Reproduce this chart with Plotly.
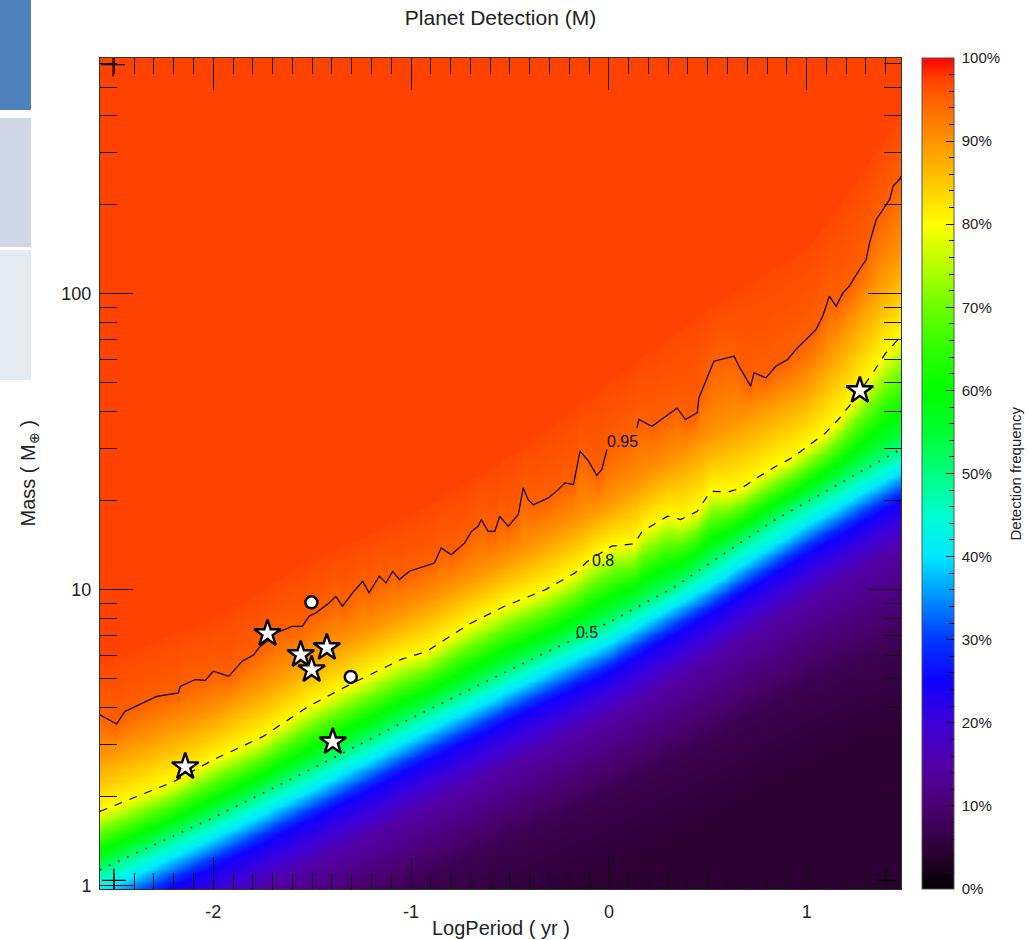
import numpy as np
import plotly.graph_objects as go

# ---------------- data ----------------
# 0.95 contour (solid), log10 period [yr] / log10 mass [M_earth]; two pieces (label gap)
p95_a = [-2.574, -2.489, -2.447, -2.286, -2.176, -2.168, -2.091, -2.041, -2.000, -1.922,
         -1.854, -1.795, -1.770, -1.719, -1.685, -1.600, -1.550, -1.516, -1.482, -1.415,
         -1.381, -1.347, -1.296, -1.245, -1.212, -1.161, -1.127, -1.093, -1.059, -1.009,
         -0.882, -0.848, -0.797, -0.729, -0.695, -0.661, -0.645, -0.611, -0.577, -0.552,
         -0.509, -0.458, -0.433, -0.408, -0.382, -0.306, -0.256, -0.222, -0.179, -0.146,
         -0.103, -0.061, -0.036, -0.010]
m95_a = [0.577, 0.546, 0.588, 0.639, 0.651, 0.673, 0.696, 0.693, 0.724, 0.707,
         0.758, 0.780, 0.803, 0.831, 0.853, 0.876, 0.876, 0.910, 0.921, 0.955,
         0.977, 0.944, 0.989, 1.028, 0.989, 1.045, 1.023, 1.062, 1.034, 1.062,
         1.090, 1.141, 1.118, 1.158, 1.197, 1.214, 1.237, 1.197, 1.197, 1.248,
         1.214, 1.254, 1.344, 1.304, 1.287, 1.310, 1.338, 1.361, 1.355, 1.468,
         1.434, 1.386, 1.406, 1.473]
p95_b = [0.142, 0.151, 0.218, 0.345, 0.387, 0.447, 0.455, 0.514, 0.531, 0.633,
         0.658, 0.717, 0.734, 0.794, 0.844, 0.904, 0.946, 1.047, 1.081, 1.115,
         1.149, 1.183, 1.216, 1.267, 1.301, 1.318, 1.352, 1.386, 1.420, 1.437,
         1.470, 1.487]
m95_b = [1.547, 1.575, 1.552, 1.614, 1.575, 1.598, 1.648, 1.744, 1.772, 1.789,
         1.755, 1.688, 1.733, 1.716, 1.755, 1.778, 1.812, 1.879, 1.924, 1.992,
         1.958, 2.003, 2.026, 2.082, 2.116, 2.172, 2.251, 2.285, 2.319, 2.364,
         2.387, 2.409]

# 0.8 contour (dashed)
p80 = [-2.574, -2.2, -2.0, -1.75, -1.52, -1.29, -1.05, -0.924, -0.71, -0.53, -0.32,
       -0.17, -0.10, 0.015, 0.13, 0.168, 0.297, 0.363, 0.447, 0.514, 0.609, 0.675,
       0.761, 0.843, 0.929, 1.015, 1.096, 1.168, 1.234, 1.335, 1.40, 1.452, 1.477]
m80 = [0.25, 0.351, 0.425, 0.503, 0.605, 0.686, 0.764, 0.79, 0.882, 0.943, 1.0,
       1.057, 1.10, 1.147, 1.155, 1.197, 1.248, 1.237, 1.265, 1.332, 1.331, 1.345,
       1.383, 1.416, 1.447, 1.49, 1.53, 1.581, 1.636, 1.733, 1.80, 1.838, 1.86]

# 0.5 contour (dotted)
p50 = [-2.573, -2.0, -1.5, -1.0, -0.5, 0.0, 0.335, 0.5, 0.843, 1.0, 1.426, 1.477]
m50 = [0.053, 0.229, 0.395, 0.565, 0.729, 0.889, 1.010, 1.085, 1.237, 1.296, 1.457, 1.475]

# colour-band positions (log10 mass) read at these periods
node_p = [-2.573, -2.0, -1.5, -1.0, -0.5, 0.0, 0.5, 1.0, 1.477]
lev045 = [-0.83, -0.65, -0.485, -0.315, -0.15, 0.01, 0.18, 0.37, 0.50]
lev07 = [-0.53, -0.35, -0.185, -0.015, 0.15, 0.31, 0.48, 0.67, 0.80]
lev15 = [-0.27, -0.09, 0.075, 0.245, 0.41, 0.57, 0.765, 0.97, 1.15]
lev25 = [-0.12, 0.06, 0.225, 0.395, 0.56, 0.72, 0.915, 1.12, 1.30]
lev40 = [-0.02, 0.16, 0.325, 0.495, 0.66, 0.82, 1.01, 1.22, 1.40]
lev90 = [0.44, 0.59, 0.78, 0.94, 1.11, 1.30, 1.52, 1.70, 2.15]
lev97 = [0.75, 0.90, 1.10, 1.25, 1.45, 1.70, 1.95, 2.15, 2.60]

# planets
star_p = [-2.142, -1.726, -1.558, -1.503, -1.426, -1.396, 1.269]
star_m = [2.52, 7.1, 6.03, 5.36, 6.37, 3.06, 47.1]
circ_p = [-1.504, -1.305]
circ_m = [9.06, 5.07]

# small "+" marks in the corners
corner_p = [-2.507, -2.503, 1.401]
corner_m = [595, 1.04, 1.04]

cbar_major = [i / 10 for i in range(11)]
cbar_labels = [f"\u2005{i * 10}%" for i in range(11)]
cbar_minor = [i / 50 for i in range(51)]
x_ticks = [-2, -1, 0, 1]
y_ticks = [1, 10, 100]
y_minor = [2, 3, 4, 5, 6, 7, 8, 9, 20, 30, 40, 50, 60, 70, 80, 90, 200, 300, 400, 500, 600]

colorscale = [
    [0.00, "#000000"], [0.045, "#2c0032"], [0.10, "#4a0070"], [0.15, "#5200a8"],
    [0.20, "#3c00d8"], [0.25, "#1000ff"], [0.30, "#0038ff"], [0.35, "#0090ff"],
    [0.40, "#00e8ff"], [0.45, "#00ffd0"], [0.50, "#00ff80"], [0.55, "#00ff30"],
    [0.60, "#00ff00"], [0.65, "#30ff00"], [0.70, "#6cff00"], [0.75, "#b8ff00"],
    [0.80, "#ffff00"], [0.85, "#ffc800"], [0.90, "#ff9400"], [0.95, "#ff6000"],
    [0.975, "#ff4200"], [1.00, "#ff0000"],
]

# ---------------- build detection-frequency table ----------------
XR = [-2.573, 1.477]
YR = [-0.012, 2.797]
gp = np.linspace(XR[0], XR[1], 405)
gm = np.linspace(YR[0], YR[1], 300)

p95_all = np.array(p95_a + p95_b)
m95_all = np.array(m95_a + m95_b)
curves = [
    np.interp(gp, node_p, lev045),
    np.interp(gp, node_p, lev07),
    np.interp(gp, node_p, lev15),
    np.interp(gp, node_p, lev25),
    np.interp(gp, node_p, lev40),
    np.interp(gp, p50, m50),
    np.interp(gp, p80, m80),
    np.interp(gp, node_p, lev90),
    np.interp(gp, p95_all, m95_all),
    np.interp(gp, node_p, lev97),
]
vals = [0.045, 0.07, 0.15, 0.25, 0.40, 0.50, 0.80, 0.90, 0.95, 0.97]
L = np.vstack(curves)
for k in range(1, L.shape[0]):
    L[k] = np.maximum(L[k], L[k - 1] + 0.01)
z = np.empty((gm.size, gp.size))
for j in range(gp.size):
    z[:, j] = np.interp(gm, L[:, j], vals, left=0.045, right=0.975)

FONT = "Liberation Sans, Arial, Helvetica, sans-serif"
TXT = "#222222"
PW, PH = 801, 831  # plot area in pixels (x 100..901, y 58..889)

cbar_common = dict(
    x=(922 - 100) / PW, xanchor="left", xref="paper", xpad=0, ypad=0,
    y=0.5, yanchor="middle", len=1, lenmode="fraction",
    thickness=32, thicknessmode="pixels",
)

fig = go.Figure()
fig.add_trace(go.Heatmap(
    x=gp, y=10 ** gm, z=z, zmin=0, zmax=1, zsmooth="best",
    colorscale=colorscale,
    colorbar=dict(
        **cbar_common,
        outlinewidth=1, outlinecolor="#555",
        tickmode="array", tickvals=cbar_major, ticktext=cbar_labels,
        ticks="inside", ticklen=8, tickcolor="#111", tickwidth=1,
        tickfont=dict(family=FONT, size=15, color=TXT),
    ),
    hoverinfo="skip",
))
# transparent second colour bar carrying only the 2% minor ticks
fig.add_trace(go.Heatmap(
    x=[10, 11], y=[1000, 2000], z=[[0, 1], [1, 0]], zmin=0, zmax=1,
    colorscale=[[0, "rgba(0,0,0,0)"], [1, "rgba(0,0,0,0)"]],
    colorbar=dict(
        **cbar_common,
        outlinewidth=0, bgcolor="rgba(0,0,0,0)",
        tickmode="array", tickvals=cbar_minor, showticklabels=False,
        ticks="inside", ticklen=5, tickcolor="#111", tickwidth=1,
    ),
    hoverinfo="skip",
))

fig.add_trace(go.Scatter(x=p95_a + [None] + p95_b,
                         y=[10 ** v for v in m95_a] + [None] + [10 ** v for v in m95_b],
                         mode="lines", line=dict(color="black", width=1.2),
                         showlegend=False, hoverinfo="skip"))
fig.add_trace(go.Scatter(x=p80, y=[10 ** v for v in m80], mode="lines",
                         line=dict(color="black", width=1.2, dash="8px,8px"),
                         showlegend=False, hoverinfo="skip"))
fig.add_trace(go.Scatter(x=p50, y=[10 ** v for v in m50], mode="lines",
                         line=dict(color="black", width=1.6, dash="1.5px,8.5px"),
                         showlegend=False, hoverinfo="skip"))
fig.add_trace(go.Scatter(x=circ_p, y=circ_m, mode="markers",
                         marker=dict(symbol="circle", size=12, color="white",
                                     line=dict(color="black", width=2.5)),
                         showlegend=False))
fig.add_trace(go.Scatter(x=star_p, y=star_m, mode="markers",
                         marker=dict(symbol="star", size=20, color="white",
                                     line=dict(color="black", width=2.4)),
                         showlegend=False))
fig.add_trace(go.Scatter(x=corner_p, y=corner_m, mode="markers",
                         marker=dict(symbol="cross-thin", size=17,
                                     line=dict(color="black", width=1.2)),
                         showlegend=False, hoverinfo="skip"))

for txt, xx, yy in [("0.95", 0.071, 1.502), ("0.8", -0.028, 1.098), ("0.5", -0.111, 0.856)]:
    fig.add_annotation(x=xx, y=yy, text=txt, showarrow=False,
                       font=dict(family=FONT, size=16, color="#111"))

# axis titles and colorbar title placed at their pixel positions
fig.add_annotation(x=0.5, y=(889 - 928) / PH, xref="paper", yref="paper",
                   text="LogPeriod ( yr )", showarrow=False, xanchor="center", yanchor="middle",
                   font=dict(family=FONT, size=20, color=TXT))
fig.add_annotation(x=(29 - 100) / PW, y=0.5, xref="paper", yref="paper", textangle=-90,
                   text="Mass ( M<sub>⊕</sub> )", showarrow=False,
                   xanchor="center", yanchor="middle",
                   font=dict(family=FONT, size=20, color=TXT))
fig.add_annotation(x=(1015 - 100) / PW, y=0.5, xref="paper", yref="paper", textangle=-90,
                   text="Detection frequency", showarrow=False,
                   xanchor="center", yanchor="middle",
                   font=dict(family=FONT, size=15, color=TXT))

# slide remnants on the left edge
for (y0px, y1px, col) in [(0, 110, "#4F81BD"), (118, 247, "#CFD7E7"), (250, 380, "#E5EAF3")]:
    fig.add_shape(type="rect", xref="paper", yref="paper",
                  x0=(0 - 100) / PW, x1=(31 - 100) / PW,
                  y0=(889 - y1px) / PH, y1=(889 - y0px) / PH,
                  fillcolor=col, line=dict(width=0))

fig.update_layout(
    width=1029, height=940,
    margin=dict(l=100, r=128, t=58, b=51),
    paper_bgcolor="white", plot_bgcolor="white",
    font=dict(family=FONT, color=TXT),
    title=dict(text="Planet Detection (M)", x=0.5, xref="paper", xanchor="center",
               y=1 - 18 / 940, yanchor="middle",
               font=dict(family=FONT, size=21, color=TXT)),
    showlegend=False,
    xaxis=dict(range=XR, tickmode="array", tickvals=x_ticks,
               ticktext=[str(v) for v in x_ticks], automargin=False,
               ticks="inside", ticklen=32, tickwidth=1, tickcolor="#111",
               showline=True, linecolor="#333", linewidth=1, mirror="ticks",
               showgrid=False, zeroline=False,
               minor=dict(ticks="inside", ticklen=16, tickwidth=1, tickcolor="#111",
                          tickmode="linear", tick0=0, dtick=0.1, showgrid=False),
               tickfont=dict(family=FONT, size=18, color=TXT),
               ticklabelstandoff=6),
    yaxis=dict(type="log", range=YR, tickmode="array", tickvals=y_ticks,
               ticktext=[str(v) for v in y_ticks], automargin=False,
               ticks="inside", ticklen=33, tickwidth=1, tickcolor="#111",
               showline=True, linecolor="#333", linewidth=1, mirror="ticks",
               showgrid=False, zeroline=False,
               minor=dict(ticks="inside", ticklen=17, tickwidth=1, tickcolor="#111",
                          tickmode="array", tickvals=y_minor, showgrid=False),
               tickfont=dict(family=FONT, size=18, color=TXT),
               ticklabelstandoff=4),
)

fig.write_html("out.html", config={"displayModeBar": False},
               post_script="document.body.style.margin='0px';")
